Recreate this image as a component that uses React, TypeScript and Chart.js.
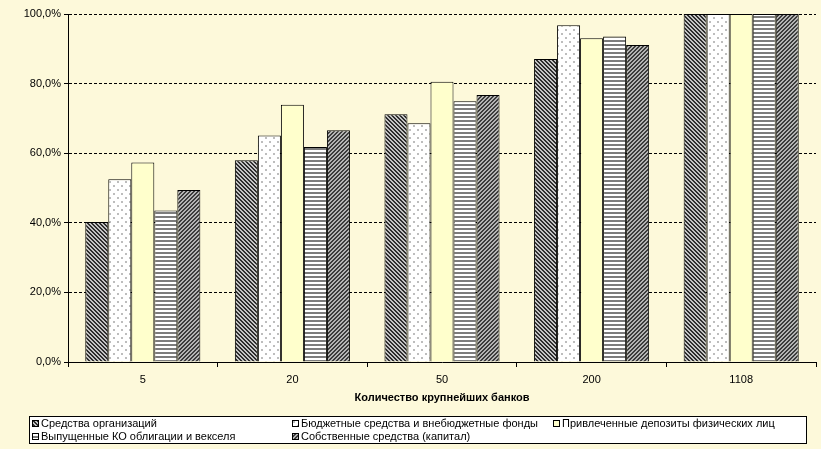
import { useEffect, useRef } from 'react';
import { Chart, registerables } from 'chart.js';

Chart.register(...registerables);

const categories = ['5', '20', '50', '200', '1108'];
const seriesNames = [
  'Средства организаций',
  'Бюджетные средства и внебюджетные фонды',
  'Привлеченные депозиты физических лиц',
  'Выпущенные КО облигации и векселя',
  'Собственные средства (капитал)',
];
const orgFunds = [40.2, 58.0, 71.2, 87.1, 100];
const budgetFunds = [52.5, 65.1, 68.6, 96.8, 100];
const deposits = [57.3, 73.9, 80.5, 93.0, 100];
const bonds = [43.5, 61.8, 74.9, 93.5, 100];
const equity = [49.4, 66.6, 76.7, 91.1, 100];
const yTicks = [0, 20, 40, 60, 80, 100];
const axisTitle = 'Количество крупнейших банков';

const BG = '#FDF9DA';
const FONT = '"Liberation Sans", Arial, sans-serif';

// small tiles for the Excel-like hatch fills
function makeTile(size: number, paint: (x: number, y: number) => string | null, base: string) {
  const c = document.createElement('canvas');
  c.width = size;
  c.height = size;
  const g = c.getContext('2d')!;
  g.fillStyle = base;
  g.fillRect(0, 0, size, size);
  for (let y = 0; y < size; y++) {
    for (let x = 0; x < size; x++) {
      const col = paint(x, y);
      if (col) {
        g.fillStyle = col;
        g.fillRect(x, y, 1, 1);
      }
    }
  }
  return g.createPattern(c, 'repeat')!;
}

function makeFills() {
  const back = makeTile(4, (x, y) => (((x - y + 8) % 4) < 2 ? '#2e2e2e' : null), '#c4c4c4');
  const dots = makeTile(
    8,
    (x, y) => ((x >= 1 && x <= 2 && y >= 1 && y <= 2) || (x >= 5 && x <= 6 && y >= 5 && y <= 6) ? '#bdbdbd' : null),
    '#ffffff'
  );
  const horiz = makeTile(4, (_x, y) => (y < 2 ? '#7c7c7c' : null), '#ffffff');
  const fwd = makeTile(4, (x, y) => (((x + y) % 4) < 2 ? '#3c3c3c' : null), '#b4b4b4');
  return [back, dots, '#FFFFCC', horiz, fwd] as (string | CanvasPattern)[];
}

export default function App() {
  const canvasRef = useRef<HTMLCanvasElement>(null);
  const chartRef = useRef<Chart | null>(null);

  useEffect(() => {
    document.body.style.margin = '0';
    document.body.style.background = BG;
    if (!canvasRef.current) return;
    if (chartRef.current) chartRef.current.destroy();

    const fills = makeFills();
    const values = [orgFunds, budgetFunds, deposits, bonds, equity];

    const extras = {
      id: 'extras',
      afterDraw(chart: Chart) {
        const { ctx, chartArea } = chart;
        ctx.save();
        // axis title
        ctx.fillStyle = '#000';
        ctx.font = `bold 11px ${FONT}`;
        ctx.textAlign = 'center';
        ctx.textBaseline = 'middle';
        ctx.fillText(axisTitle, (chartArea.left + chartArea.right) / 2, 398);

        // legend box
        ctx.fillStyle = '#ffffff';
        ctx.fillRect(29.5, 416.5, 777, 27);
        ctx.strokeStyle = '#000';
        ctx.lineWidth = 1;
        ctx.strokeRect(29.5, 416.5, 777, 27);

        const cols = [32, 292, 553];
        const rows = [423.5, 436.5];
        ctx.font = `11px ${FONT}`;
        ctx.textAlign = 'left';
        seriesNames.forEach((name, i) => {
          const x = cols[i % 3];
          const y = rows[Math.floor(i / 3)];
          ctx.fillStyle = fills[i];
          ctx.fillRect(x, y - 3.5, 7, 7);
          ctx.strokeRect(x + 0.5, y - 3, 6, 6);
          ctx.fillStyle = '#000';
          ctx.fillText(name, x + 9, y + 0.5);
        });
        ctx.restore();
      },
    };

    chartRef.current = new Chart(canvasRef.current, {
      type: 'bar',
      data: {
        labels: categories,
        datasets: values.map((data, i) => ({
          label: seriesNames[i],
          data,
          backgroundColor: fills[i],
          borderColor: '#000',
          borderWidth: 1,
          barPercentage: 1,
          categoryPercentage: 5 / 6.5,
        })),
      },
      options: {
        animation: false,
        responsive: false,
        maintainAspectRatio: false,
        layout: { padding: { left: 0, top: 14, right: 5, bottom: 44 } },
        plugins: {
          legend: { display: false },
          tooltip: { enabled: false },
        },
        scales: {
          x: {
            grid: {
              offset: true,
              drawOnChartArea: false,
              drawTicks: true,
              tickLength: 5,
              color: '#000',
            },
            border: { color: '#000', width: 1 },
            ticks: { color: '#000', font: { family: FONT, size: 11 }, padding: 6 },
            afterFit: (scale: any) => {
              scale.height = 43;
            },
          },
          y: {
            min: 0,
            max: 100,
            afterBuildTicks: (scale: any) => {
              scale.ticks = yTicks.map((v) => ({ value: v }));
            },
            grid: {
              color: '#000',
              lineWidth: 1,
              tickLength: 4,
              tickBorderDash: [],
            },
            border: { color: '#000', width: 1, dash: [3, 2] },
            ticks: {
              color: '#000',
              font: { family: FONT, size: 11 },
              padding: 3,
              callback: (v: any) => Number(v).toFixed(1).replace('.', ',') + '%',
            },
            afterFit: (scale: any) => {
              scale.width = 68;
            },
          },
        },
      },
      plugins: [extras],
    });

    return () => {
      if (chartRef.current) chartRef.current.destroy();
      chartRef.current = null;
    };
  }, []);

  return (
    <div style={{ width: 821, height: 449, background: BG }}>
      <canvas ref={canvasRef} width={821} height={449} />
    </div>
  );
}
